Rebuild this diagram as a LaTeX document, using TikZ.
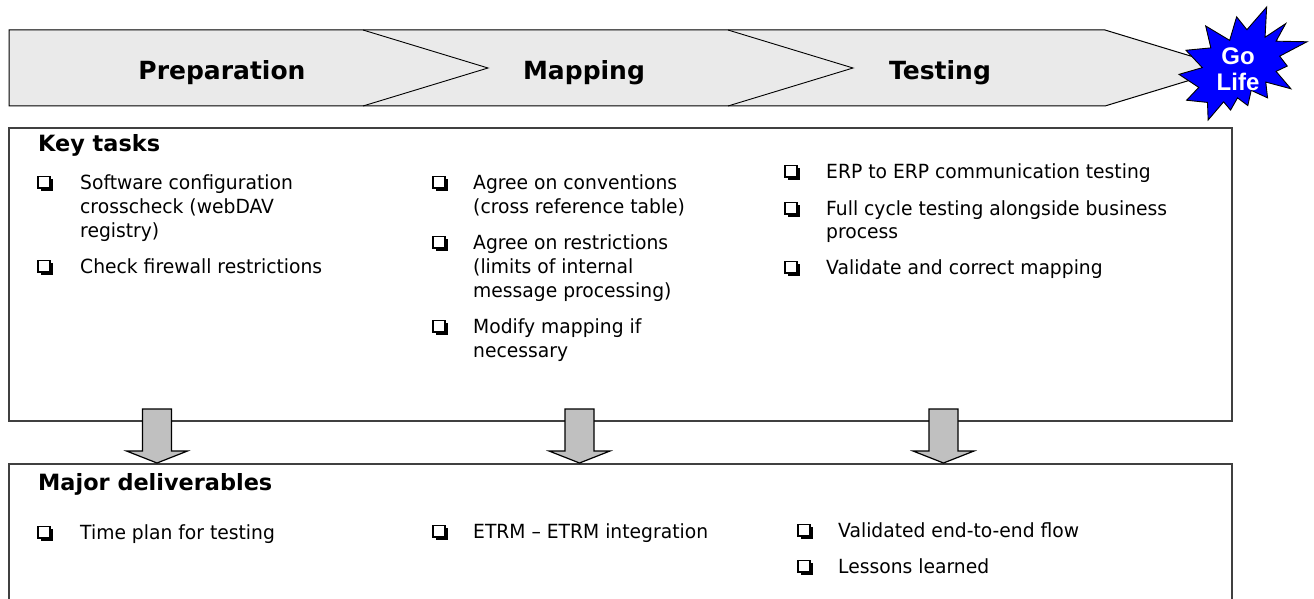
\documentclass[tikz,border=0pt]{standalone}
\usepackage{fontspec}
\setmainfont{DejaVu Sans}
\newfontfamily\bodyfont{DejaVu Sans}[FakeStretch=0.96, Ligatures=TeX]
\newfontfamily\headfont{DejaVu Sans}
\newfontfamily\sealfont{Liberation Sans}
\usetikzlibrary{calc}

\definecolor{barfill}{HTML}{EAEAEA}
\definecolor{arrowfill}{HTML}{C0C0C0}
\definecolor{boxline}{HTML}{404040}
\definecolor{sealblue}{RGB}{0,0,255}

\tikzset{
  phase/.style={font=\headfont\bfseries\fontsize{25}{30}\selectfont, anchor=base, inner sep=0pt},
  heading/.style={font=\headfont\bfseries\fontsize{22.4}{27}\selectfont, anchor=base west, inner sep=0pt},
  itemtext/.style={font=\bodyfont\fontsize{19.5}{24}\selectfont, anchor=base west, inner sep=0pt},
  panel/.style={draw=boxline, line width=1.3pt, anchor=north west, inner sep=0pt, outer sep=0pt},
  downarrow/.style={draw=black, fill=arrowfill, line width=1.2pt, line join=miter},
}

% shadowed check box, #1 = left x, #2 = text baseline
\newcommand\chkbox[2]{%
  \fill (#1+2.5,#2-10) rectangle (#1+14.5,#2+1.5);
  \draw[line width=1.1pt, fill=white] (#1,#2-12.5) rectangle (#1+12,#2-1);
}
% block arrow pointing down, #1 = centre x
\newcommand\blockdown[1]{%
  \draw[downarrow] (#1-14.5,409) -- (#1+14.5,409) -- (#1+14.5,451) -- (#1+30.5,451)
    -- (#1,463) -- (#1-30.5,451) -- (#1-14.5,451) -- cycle;
}

\begin{document}
\begin{tikzpicture}[x=1pt, y=-1pt]
\clip (0,0) rectangle (1314,599);
\fill[white] (0,0) rectangle (1314,599);

% phase bar
\path[draw=black, line width=1pt, fill=barfill]
  (9,30) -- (1105,30) -- (1230,68) -- (1105,106) -- (9,106) -- cycle;
\draw[line width=0.9pt] (363,30) -- (488,68) -- (363,106);
\draw[line width=0.9pt] (728,30) -- (853,68) -- (728,106);
\node[phase] (prep) at (222,80) {Preparation};
\node[phase] (map)  at (584,80) {Mapping};
\node[phase] (test) at (940,80) {Testing};

% go-live burst
\begin{scope}[shift={(1179,7)}, x=0.5926pt, y=-0.5231pt]
\draw[fill=sealblue, line width=0.9pt, line join=miter]
  (114.62,43.42) -- (147.90,0) -- (145.25,57.77) -- (180.07,31.72) -- (163.80,65.32)
  -- (216.00,66.45) -- (169.85,94.02) -- (182.70,112.90) -- (163.80,123.10)
  -- (188.77,156.32) -- (146.40,143.50) -- (149.42,173.70) -- (121.80,159.35)
  -- (116.12,188.42) -- (98.72,173.70) -- (87.00,197.12) -- (75.27,181.25)
  -- (49.17,216.00) -- (48.05,182.40) -- (12.85,178.25) -- (33.30,153.70)
  -- (0,128.77) -- (39.35,115.92) -- (11.72,82.70) -- (53.72,78.17)
  -- (45.02,36.25) -- (85.50,63.82) -- (97.22,18.87) -- cycle;
\end{scope}
\node[font=\sealfont\bfseries\fontsize{24}{26}\selectfont, text=white, align=center, inner sep=0pt]
  (golive) at (1238,69) {Go\\Life};

% panels
\node[panel, minimum width=1223pt, minimum height=293pt] (tasks) at (9,128) {};
\node[panel, minimum width=1223pt, minimum height=160pt] (deliv) at (9,464) {};

% key tasks
\node[heading] (kt) at (38,152) {Key tasks};

\chkbox{38}{189}
\node[itemtext] (a1) at (80,189) {Software configuration};
\node[itemtext] (a2) at (80,213) {crosscheck (webDAV};
\node[itemtext] (a3) at (80,237) {registry)};
\chkbox{38}{273}
\node[itemtext] (a4) at (80,273) {Check firewall restrictions};

\chkbox{433}{189}
\node[itemtext] (b1) at (473,189) {Agree on conventions};
\node[itemtext] (b2) at (473,213) {(cross reference table)};
\chkbox{433}{249}
\node[itemtext] (b3) at (473,249) {Agree on restrictions};
\node[itemtext] (b4) at (473,273) {(limits of internal};
\node[itemtext] (b5) at (473,297) {message processing)};
\chkbox{433}{333}
\node[itemtext] (b6) at (473,333) {Modify mapping if};
\node[itemtext] (b7) at (473,357) {necessary};

\chkbox{785}{178}
\node[itemtext] (c1) at (826,178) {ERP to ERP communication testing};
\chkbox{785}{215}
\node[itemtext] (c2) at (826,215) {Full cycle testing alongside business};
\node[itemtext] (c3) at (826,238) {process};
\chkbox{785}{274}
\node[itemtext] (c4) at (826,274) {Validate and correct mapping};

% deliverables
\node[heading] (md) at (38,490) {Major deliverables};
\chkbox{38}{539}
\node[itemtext] (d1) at (80,539) {Time plan for testing};
\chkbox{433}{538}
\node[itemtext] (d2) at (473,538) {ETRM – ETRM integration};
\chkbox{798}{537}
\node[itemtext] (d3) at (838,537) {Validated end-to-end flow};
\chkbox{798}{573}
\node[itemtext] (d4) at (838,573) {Lessons learned};

% arrows from tasks to deliverables
\blockdown{157}
\blockdown{579.5}
\blockdown{943.5}
\end{tikzpicture}
\end{document}
